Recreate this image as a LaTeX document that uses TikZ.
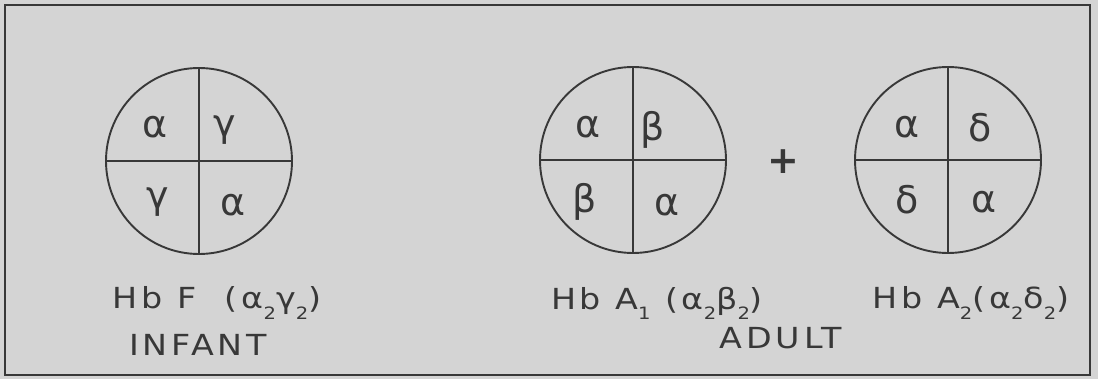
\documentclass[tikz,border=0pt]{standalone}
\usepackage{fontspec}
\setmainfont{DejaVu Sans}
\newfontfamily\hand[FakeStretch=1.15,LetterSpace=13]{DejaVu Sans}
\definecolor{bg}{HTML}{D4D4D4}
\definecolor{ink}{HTML}{383838}
\newcommand{\lowsub}[1]{\raisebox{-0.35em}{\fontsize{17}{17}\selectfont #1}}
\begin{document}
\begin{tikzpicture}[x=1pt,y=-1pt,
  hb/.style={circle,draw=ink,line width=1.9pt,minimum size=186pt,inner sep=0pt},
  cross/.style={draw=ink,line width=1.9pt},
  chain/.style={font=\fontsize{38}{40}\selectfont,text=ink,inner sep=0pt},
  lbl/.style={font=\hand\fontsize{29}{31}\selectfont,text=ink,inner sep=0pt},
  plus/.style={font=\bfseries\fontsize{38}{40}\selectfont,text=ink,inner sep=0pt}]
\fill[bg] (0,0) rectangle (1098,379);
\useasboundingbox (0,0) rectangle (1098,379);
\draw[ink,line width=2.2pt] (5,5) rectangle (1090,375);
% circles
\node[hb] (f) at (199,161) {};
\node[hb] (a1) at (633,160) {};
\node[hb] (a2) at (948,160) {};
\foreach \c in {f,a1,a2}{
  \draw[cross] (\c.north) -- (\c.south);
  \draw[cross] (\c.west) -- (\c.east);
}
% chains
\node[chain] (f1) at (155,127) {α};
\node[chain] (f2) at (225,130) {γ};
\node[chain] (f3) at (158,202) {γ};
\node[chain] (f4) at (233,205) {α};
\node[chain] (b1) at (588,127) {α};
\node[chain] (b2) at (653,130) {β};
\node[chain] (b3) at (585,202) {β};
\node[chain] (b4) at (667,205) {α};
\node[chain] (d1) at (907,127) {α};
\node[chain] (d2) at (980,128) {δ};
\node[chain] (d3) at (907,200) {δ};
\node[chain] (d4) at (984,202) {α};
\node[plus] (p) at (783,162) {+};
% labels
\node[lbl] (lf) at (217,303) {Hb F\ \ (α\lowsub{2}γ\lowsub{2})};
\node[lbl] (li) at (198,345) {INFANT};
\node[lbl] (la1) at (657,303) {Hb A\lowsub{1}\ (α\lowsub{2}β\lowsub{2})};
\node[lbl] (la2) at (971,303) {Hb A\lowsub{2}(α\lowsub{2}δ\lowsub{2})};
\node[lbl] (lad) at (781,338) {ADULT};
\end{tikzpicture}
\end{document}
